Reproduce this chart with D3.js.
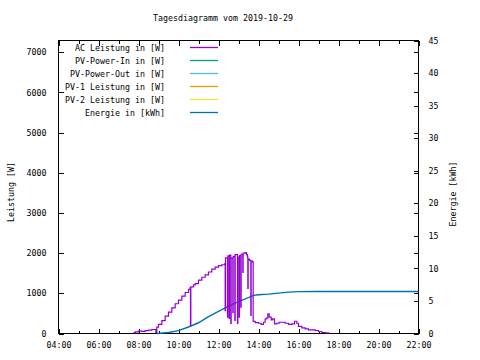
<!DOCTYPE html>
<html><head><meta charset="utf-8">
<script src="https://cdn.jsdelivr.net/npm/d3@7"></script>
<style>
html,body{margin:0;padding:0;background:#fff;}
svg{display:block;}
text{font-family:"DejaVu Sans Mono","Liberation Mono",monospace;font-size:8.3px;fill:#000;}
</style></head><body>
<svg id="c" width="480" height="360"></svg>
<script>
const title = "Tagesdiagramm vom 2019-10-29";
const yLabel = "Leistung [W]";
const y2Label = "Energie [kWh]";
const xTickLabels = ["04:00","06:00","08:00","10:00","12:00","14:00","16:00","18:00","20:00","22:00"];
const yTicks = [0,1000,2000,3000,4000,5000,6000,7000];
const y2Ticks = [0,5,10,15,20,25,30,35,40,45];
const seriesNames = ["AC Leistung in [W]","PV-Power-In in [W]","PV-Power-Out in [W]","PV-1 Leistung in [W]","PV-2 Leistung in [W]","Energie in [kWh]"];
const seriesColors = ["#9400d3","#009e73","#56b4e9","#e69f00","#f0e442","#0072b2"];

// AC Leistung [W]
const acTimes = ["07:45","07:50","08:00","08:10","08:20","08:30","08:40","08:50","08:52","08:55","09:00","09:10","09:20","09:30","09:40","09:50","10:00","10:10","10:20","10:30","10:35","10:36","10:37","10:45","10:50","11:00","11:10","11:20","11:30","11:40","11:50","12:00","12:10","12:18",
  "12:20","12:21","12:27","12:28","12:32","12:33","12:37","12:38","12:43","12:44","12:49","12:50","12:57","12:58","13:02","13:03","13:07","13:08","13:13","13:14",
  "13:20","13:24","13:27","13:28","13:29","13:33","13:37","13:38","13:42","13:44",
  "13:50","14:00","14:08","14:15","14:20","14:25","14:28","14:32","14:38","14:42","14:48","14:55","15:02","15:10","15:20","15:30","15:40","15:48","15:55","16:00","16:10","16:20","16:30","16:40","16:50","17:00","17:10","17:20","17:30"];
const acValues = [20,40,60,55,70,85,100,100,30,160,225,320,430,530,640,740,830,930,1020,1100,1140,200,1160,1210,1240,1330,1400,1460,1530,1600,1650,1690,1710,1730,
  570,1880,405,1930,375,1950,250,1880,520,1920,325,1960,250,1900,405,1940,655,1970,1520,2000,
  2010,1960,1900,1120,1850,1820,450,1800,1780,300,
  270,255,225,280,365,390,490,405,340,365,240,255,280,280,255,225,240,305,255,175,140,115,90,90,75,50,25,15,0];

// Energie [kWh]
const enTimes = ["08:55","09:30","10:00","10:30","11:00","11:30","12:00","12:30","13:00","13:30","13:45","14:00","14:30","15:00","15:30","16:00","17:00","22:00"];
const enValues = [0,0.15,0.45,1.0,1.65,2.6,3.4,4.2,4.9,5.5,5.85,5.95,6.05,6.2,6.35,6.43,6.45,6.45];

const toH = s => { const [h,m] = s.split(":").map(Number); return h + m/60; };
const ac = acTimes.map((t,i)=>({x:toH(t), y:acValues[i]}));
const en = enTimes.map((t,i)=>({x:toH(t), y:enValues[i]}));

const L=58.5, R=418.5, T=40.5, B=333.5;
const svg = d3.select("#c");
const x = d3.scaleLinear().domain([4,22]).range([L,R]);
const y = d3.scaleLinear().domain([0,7290]).range([B,T]);
const y2 = d3.scaleLinear().domain([0,45]).range([B,T]);

function style(g){
  g.selectAll(".domain").remove();
  g.selectAll("line").attr("stroke","#000").attr("shape-rendering","crispEdges");
  g.selectAll("text").attr("font-family",null).attr("font-size",null);
}

// title
svg.append("text").attr("x",223).attr("y",21).attr("text-anchor","middle").text(title);

// axes
const major = d3.range(4,23,2), minor = d3.range(5,22,2);
svg.append("g").attr("transform",`translate(0,${B})`)
  .call(d3.axisBottom(x).tickValues(major).tickFormat((d,i)=>xTickLabels[i]).tickSizeInner(-5).tickSizeOuter(0).tickPadding(9)).call(style);
svg.append("g").attr("transform",`translate(0,${B})`)
  .call(d3.axisBottom(x).tickValues(minor).tickFormat("").tickSizeInner(-3).tickSizeOuter(0)).call(style);
svg.append("g").attr("transform",`translate(0,${T})`)
  .call(d3.axisTop(x).tickValues(major).tickFormat("").tickSizeInner(-5).tickSizeOuter(0)).call(style);
svg.append("g").attr("transform",`translate(0,${T})`)
  .call(d3.axisTop(x).tickValues(minor).tickFormat("").tickSizeInner(-3).tickSizeOuter(0)).call(style);

svg.append("g").attr("transform",`translate(${L},0)`)
  .call(d3.axisLeft(y).tickValues(yTicks).tickFormat(d3.format("d")).tickSizeInner(-5).tickSizeOuter(0).tickPadding(12)).call(style);
svg.append("g").attr("transform",`translate(${R},0)`)
  .call(d3.axisRight(y).tickValues(yTicks).tickFormat("").tickSizeInner(-5).tickSizeOuter(0)).call(style);
svg.append("g").attr("transform",`translate(${R},0)`)
  .call(d3.axisRight(y2).tickValues(y2Ticks).tickFormat(d3.format("d")).tickSizeInner(-5).tickSizeOuter(0).tickPadding(10)).call(style);

// frame
svg.append("rect").attr("x",L).attr("y",T).attr("width",R-L).attr("height",B-T)
  .attr("fill","none").attr("stroke","#000").attr("shape-rendering","crispEdges");

// axis labels
svg.append("text").attr("transform","translate(14,192) rotate(-90)").attr("text-anchor","middle").text(yLabel);
svg.append("text").attr("transform","translate(456,194) rotate(-90)").attr("text-anchor","middle").text(y2Label);

// lines
svg.append("path").datum(en).attr("fill","none").attr("stroke",seriesColors[5]).attr("stroke-width",1.4)
  .attr("d", d3.line().x(d=>x(d.x)).y(d=>y2(d.y)).curve(d3.curveLinear));
svg.append("path").datum(ac).attr("fill","none").attr("stroke",seriesColors[0]).attr("stroke-width",1.2)
  .attr("d", d3.line().x(d=>x(d.x)).y(d=>y(d.y)).curve(d3.curveStepAfter));

// legend
const lg = svg.append("g");
seriesNames.forEach((n,i)=>{
  const yy = 47.5 + i*13;
  lg.append("text").attr("x",165).attr("y",yy+3).attr("text-anchor","end").text(n);
  lg.append("line").attr("x1",190).attr("x2",218).attr("y1",yy).attr("y2",yy)
    .attr("stroke",seriesColors[i]).attr("stroke-width",1.3);
});
</script>
</body></html>
